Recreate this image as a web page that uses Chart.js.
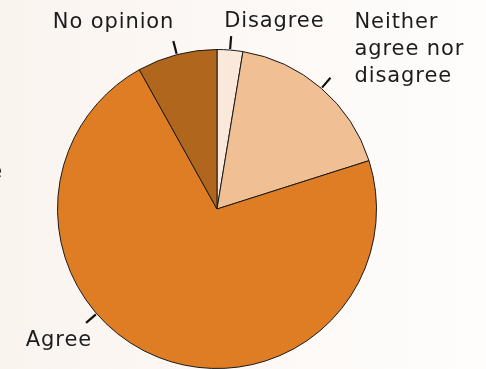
<!DOCTYPE html>
<html>
<head>
<meta charset="utf-8">
<script src="https://cdn.jsdelivr.net/npm/chart.js@4"></script>
<style>
    html, body { margin: 0; padding: 0; }
    body {
        width: 486px; height: 369px; overflow: hidden;
        background: linear-gradient(to right, #faf4ef 0%, #fcf8f5 45%, #fefdfc 100%);
    }
    #wrap { position: relative; width: 486px; height: 369px; }
</style>
</head>
<body>
<div id="wrap"><canvas id="pieChart"></canvas></div>
<script>
// DATA
const categories = ['Disagree', 'Neither agree nor disagree', 'Agree', 'No opinion'];
const shares = [2.6, 17.5, 71.8, 8.1];
const sliceColors = ['#fae8da', '#f0bf93', '#df7d24', '#b1661d'];

// label placement relative to the end of each tick (dx, dy, align)
// tickDeg: optional fixed tick direction (degrees clockwise from 12 o'clock)
const labelSpots = [
    { dx: -7, dy: -9, align: 'left', lines: ['Disagree'] },
    { dx: 24, dy: -50, align: 'left', lines: ['Neither', 'agree nor', 'disagree'] },
    { dx: 6, dy: 23, align: 'right', lines: ['Agree'], tickDeg: 229 },
    { dx: 1, dy: -13, align: 'right', lines: ['No opinion'] }
];

const FONT = '21px "DejaVu Sans", sans-serif';

// PIE LABELS + TICKS
const tickLabels = {
    id: 'tickLabels',
    afterDatasetsDraw(chart) {
        const ctx = chart.ctx;
        const arcs = chart.getDatasetMeta(0).data;
        ctx.save();
        ctx.font = FONT;
        if ('letterSpacing' in ctx) ctx.letterSpacing = '0.9px';
        arcs.forEach((arc, i) => {
            const s = labelSpots[i];
            let mid = (arc.startAngle + arc.endAngle) / 2;
            if (s.tickDeg !== undefined) mid = (s.tickDeg - 90) * Math.PI / 180;
            const r0 = arc.outerRadius + 1;
            const r1 = arc.outerRadius + 14;
            const x0 = arc.x + Math.cos(mid) * r0, y0 = arc.y + Math.sin(mid) * r0;
            const x1 = arc.x + Math.cos(mid) * r1, y1 = arc.y + Math.sin(mid) * r1;
            ctx.strokeStyle = '#111';
            ctx.lineWidth = 2.2;
            ctx.beginPath();
            ctx.moveTo(x0, y0);
            ctx.lineTo(x1, y1);
            ctx.stroke();

            ctx.fillStyle = '#1c1c1c';
            ctx.textAlign = s.align;
            ctx.textBaseline = 'alphabetic';
            s.lines.forEach((t, k) => ctx.fillText(t, x1 + s.dx, y1 + s.dy + k * 27));
        });
        // clipped letter at the left edge
        ctx.textAlign = 'right';
        ctx.fillText('e', 3, 178);
        ctx.restore();
    }
};

new Chart(document.getElementById('pieChart'), {
    type: 'pie',
    data: {
        labels: categories,
        datasets: [{
            data: shares,
            backgroundColor: sliceColors,
            borderColor: '#1a1a1a',
            borderWidth: 1
        }]
    },
    options: {
        responsive: true,
        maintainAspectRatio: false,
        animation: false,
        layout: { padding: { left: 57, right: 109, top: 49, bottom: 0 } },
        plugins: {
            legend: { display: false },
            tooltip: { enabled: false }
        }
    },
    plugins: [tickLabels]
});
</script>
</body>
</html>
